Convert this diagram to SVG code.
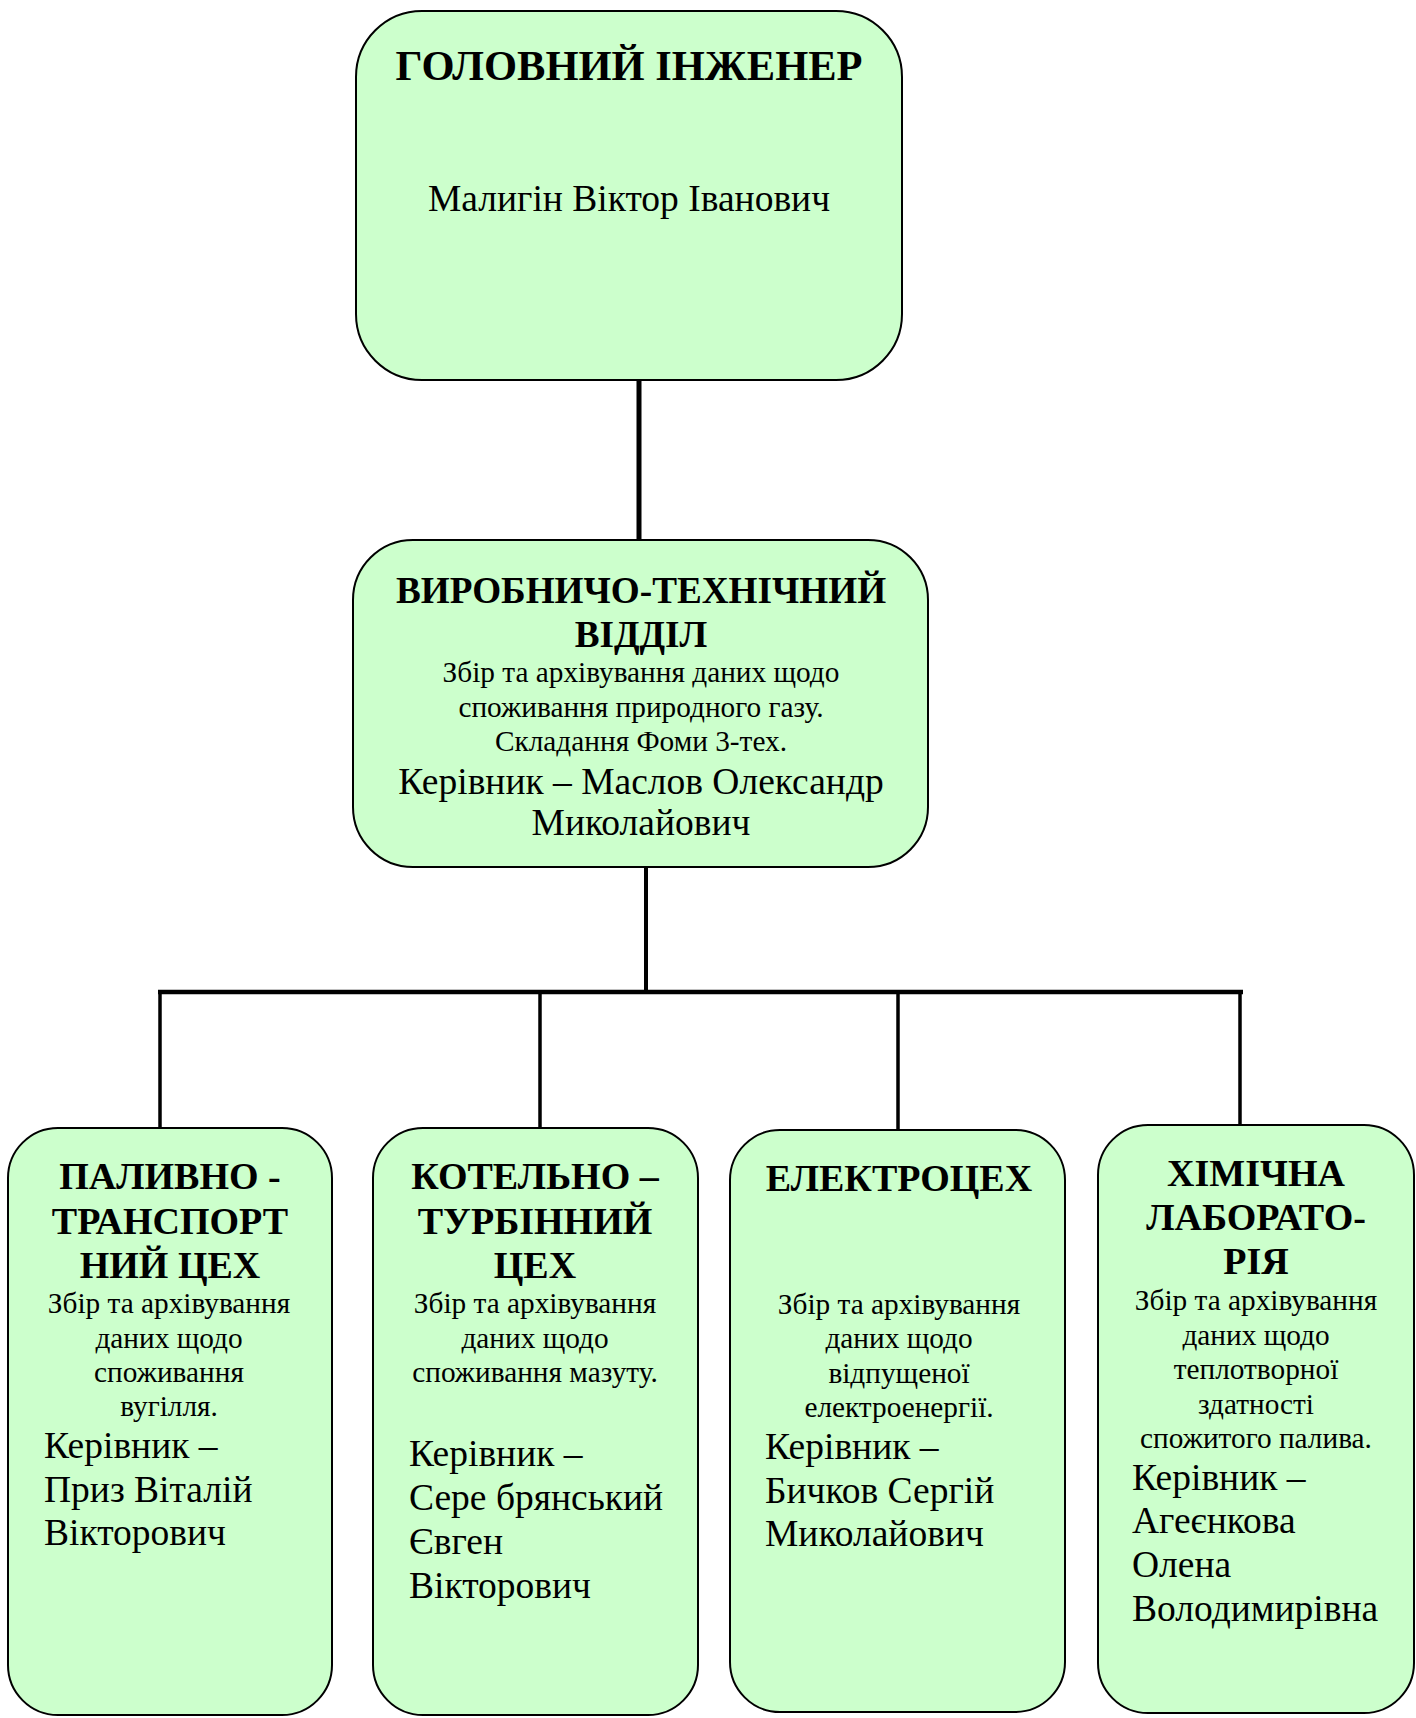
<svg xmlns="http://www.w3.org/2000/svg" width="1416" height="1718" viewBox="0 0 1416 1718">
<style>
.box{fill:#CCFFCC;stroke:#000;stroke-width:2}
text{font-family:"Liberation Serif","Times New Roman",serif;fill:#000}
.t{font-weight:bold;font-size:38px;text-anchor:middle}
.s{font-size:29.3px;text-anchor:middle}
.b{font-size:37.5px}
.bc{font-size:37.5px;text-anchor:middle}
.c{stroke:#000;fill:none}
</style>
<rect width="1416" height="1718" fill="#fff"/>
<g id="connectors">
<line class="c" x1="639" y1="381" x2="639" y2="540" stroke-width="5"/>
<line class="c" x1="646" y1="868" x2="646" y2="992" stroke-width="4"/>
<line class="c" x1="158" y1="992" x2="1243" y2="992" stroke-width="4.5"/>
<line class="c" x1="160" y1="990" x2="160" y2="1128" stroke-width="3.5"/>
<line class="c" x1="540" y1="990" x2="540" y2="1128" stroke-width="3.5"/>
<line class="c" x1="898" y1="990" x2="898" y2="1130" stroke-width="3.5"/>
<line class="c" x1="1240" y1="990" x2="1240" y2="1128" stroke-width="3.5"/>
</g>
<g id="chief">
<rect class="box" x="356" y="11" width="546" height="369" rx="66"/>
<text class="t" x="629" y="80" style="font-size:42.5px">ГОЛОВНИЙ ІНЖЕНЕР</text>
<text class="bc" x="629" y="211">Малигін Віктор Іванович</text>
</g>
<g id="pto">
<rect class="box" x="353" y="540" width="575" height="327" rx="60"/>
<text class="t" x="641" y="603" style="font-size:37.2px">ВИРОБНИЧО-ТЕХНІЧНИЙ</text>
<text class="t" x="641" y="647" style="font-size:37.2px">ВІДДІЛ</text>
<text class="s" x="641" y="682">Збір та архівування даних щодо</text>
<text class="s" x="641" y="717">споживання природного газу.</text>
<text class="s" x="641" y="751">Складання Фоми 3-тех.</text>
<text class="bc" x="641" y="794">Керівник – Маслов Олександр</text>
<text class="bc" x="641" y="835">Миколайович</text>
</g>
<g id="fuel">
<rect class="box" x="8" y="1128" width="324" height="587" rx="50"/>
<text class="t" x="170" y="1189">ПАЛИВНО -</text>
<text class="t" x="170" y="1234">ТРАНСПОРТ</text>
<text class="t" x="170" y="1278">НИЙ ЦЕХ</text>
<text class="s" x="169" y="1313">Збір та архівування</text>
<text class="s" x="169" y="1348">даних щодо</text>
<text class="s" x="169" y="1382">споживання</text>
<text class="s" x="169" y="1416">вугілля.</text>
<text class="b" x="44" y="1458">Керівник –</text>
<text class="b" x="44" y="1502">Приз Віталій</text>
<text class="b" x="44" y="1545">Вікторович</text>
</g>
<g id="boiler">
<rect class="box" x="373" y="1128" width="325" height="587" rx="50"/>
<text class="t" x="535" y="1189">КОТЕЛЬНО –</text>
<text class="t" x="535" y="1234">ТУРБІННИЙ</text>
<text class="t" x="535" y="1278">ЦЕХ</text>
<text class="s" x="535" y="1313">Збір та архівування</text>
<text class="s" x="535" y="1348">даних щодо</text>
<text class="s" x="535" y="1382">споживання мазуту.</text>
<text class="b" x="409" y="1466">Керівник –</text>
<text class="b" x="409" y="1510">Сере брянський</text>
<text class="b" x="409" y="1554">Євген</text>
<text class="b" x="409" y="1598">Вікторович</text>
</g>
<g id="electro">
<rect class="box" x="730" y="1130" width="335" height="582" rx="50"/>
<text class="t" x="899" y="1191">ЕЛЕКТРОЦЕХ</text>
<text class="s" x="899" y="1314">Збір та архівування</text>
<text class="s" x="899" y="1348">даних щодо</text>
<text class="s" x="899" y="1383">відпущеної</text>
<text class="s" x="899" y="1417">електроенергії.</text>
<text class="b" x="765" y="1459">Керівник –</text>
<text class="b" x="765" y="1503">Бичков Сергій</text>
<text class="b" x="765" y="1546">Миколайович</text>
</g>
<g id="chemlab">
<rect class="box" x="1098" y="1125" width="316" height="588" rx="50"/>
<text class="t" x="1256" y="1186">ХІМІЧНА</text>
<text class="t" x="1256" y="1230">ЛАБОРАТО-</text>
<text class="t" x="1256" y="1274">РІЯ</text>
<text class="s" x="1256" y="1310">Збір та архівування</text>
<text class="s" x="1256" y="1345">даних щодо</text>
<text class="s" x="1256" y="1379">теплотворної</text>
<text class="s" x="1256" y="1414">здатності</text>
<text class="s" x="1256" y="1448">спожитого палива.</text>
<text class="b" x="1132" y="1490">Керівник –</text>
<text class="b" x="1132" y="1533">Агеєнкова</text>
<text class="b" x="1132" y="1577">Олена</text>
<text class="b" x="1132" y="1621">Володимирівна</text>
</g>
</svg>
